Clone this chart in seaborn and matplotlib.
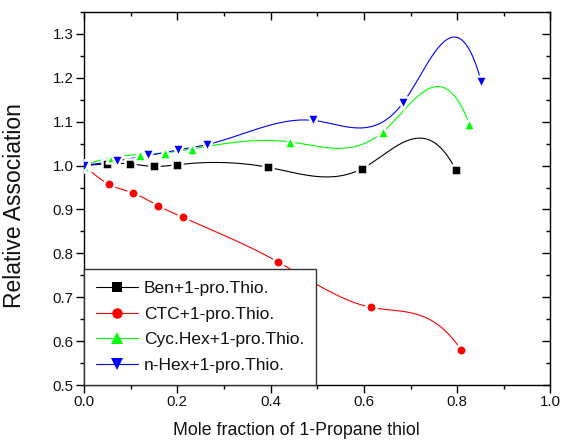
import numpy as np
import matplotlib
matplotlib.use("Agg")
import matplotlib.pyplot as plt
import seaborn as sns
from matplotlib.lines import Line2D
from matplotlib.ticker import MultipleLocator, FormatStrFormatter

# ---- data ----
ben_x = [0.0, 0.049, 0.099, 0.149, 0.199, 0.395, 0.596, 0.797]
ben_y = [1.000, 1.004, 1.004, 0.998, 1.002, 0.996, 0.993, 0.990]
ctc_x = [0.0, 0.054, 0.106, 0.158, 0.212, 0.415, 0.615, 0.809]
ctc_y = [1.000, 0.957, 0.937, 0.909, 0.882, 0.781, 0.677, 0.579]
cyc_x = [0.0, 0.059, 0.119, 0.174, 0.231, 0.442, 0.641, 0.826]
cyc_y = [1.000, 1.019, 1.025, 1.029, 1.038, 1.054, 1.077, 1.095]
hex_x = [0.0, 0.070, 0.138, 0.202, 0.264, 0.491, 0.684, 0.852]
hex_y = [1.000, 1.011, 1.023, 1.036, 1.048, 1.103, 1.143, 1.190]

labels = ["Ben+1-pro.Thio.", "CTC+1-pro.Thio.", "Cyc.Hex+1-pro.Thio.", "n-Hex+1-pro.Thio."]
x_ticks = [0.0, 0.2, 0.4, 0.6, 0.8, 1.0]
y_ticks = [0.5, 0.6, 0.7, 0.8, 0.9, 1.0, 1.1, 1.2, 1.3]

colors = ["#000000", "#ff0000", "#00ff00", "#0000ff"]
markers = ["s", "o", "^", "v"]
msizes = [7.0, 7.5, 8.6, 8.6]
# spline connection style (end slope of the connecting spline curve)
end_slopes = [-2.1, -1.6, -2.8, -3.9]


def spline_curve(x, y, end_slope, n=400):
    """Cubic spline through the points: natural start, clamped end."""
    x = np.asarray(x, float)
    y = np.asarray(y, float)
    N = len(x)
    h = np.diff(x)
    d = np.diff(y) / h
    A = np.zeros((N, N))
    b = np.zeros(N)
    A[0, 0], A[0, 1], b[0] = 2.0, 1.0, 3.0 * d[0]
    for i in range(1, N - 1):
        A[i, i - 1] = h[i]
        A[i, i] = 2.0 * (h[i - 1] + h[i])
        A[i, i + 1] = h[i - 1]
        b[i] = 3.0 * (h[i] * d[i - 1] + h[i - 1] * d[i])
    A[N - 1, N - 1], b[N - 1] = 1.0, end_slope
    m = np.linalg.solve(A, b)
    xs = np.linspace(x[0], x[-1], n)
    idx = np.clip(np.searchsorted(x, xs, side="right") - 1, 0, N - 2)
    t = (xs - x[idx]) / h[idx]
    h00 = 2 * t**3 - 3 * t**2 + 1
    h10 = t**3 - 2 * t**2 + t
    h01 = -2 * t**3 + 3 * t**2
    h11 = t**3 - t**2
    ys = h00 * y[idx] + h10 * h[idx] * m[idx] + h01 * y[idx + 1] + h11 * h[idx] * m[idx + 1]
    return xs, ys


sns.set_theme(style="ticks")
plt.rcParams["font.family"] = ["Liberation Sans", "DejaVu Sans"]

fig = plt.figure(figsize=(5.62, 4.47), dpi=100)
ax = fig.add_axes([0.1495, 0.1387, 0.830, 0.8345])

series = [(ben_x, ben_y), (ctc_x, ctc_y), (cyc_x, cyc_y), (hex_x, hex_y)]
for k, (sx, sy) in enumerate(series):
    xs, ys = spline_curve(sx, sy, end_slopes[k])
    sns.lineplot(x=xs, y=ys, ax=ax, color=colors[k], linewidth=0.8,
                 sort=False, estimator=None, zorder=2 + k)
for k, (sx, sy) in enumerate(series):
    sns.scatterplot(x=sx, y=sy, ax=ax, marker=markers[k], s=msizes[k] ** 2,
                    color=colors[k], edgecolor="white", linewidth=1.8,
                    zorder=10 + k)

ax.set_xlim(0.0, 1.0)
ax.set_ylim(0.5, 1.35)
ax.set_xticks(x_ticks)
ax.set_yticks(y_ticks)
ax.xaxis.set_minor_locator(MultipleLocator(0.1))
ax.yaxis.set_minor_locator(MultipleLocator(0.05))
ax.xaxis.set_major_formatter(FormatStrFormatter("%.1f"))
ax.yaxis.set_major_formatter(FormatStrFormatter("%.1f"))

for s in ax.spines.values():
    s.set_visible(True)
    s.set_color("black")
    s.set_linewidth(1.0)

ax.tick_params(axis="both", which="both", color="black", width=1.0,
               labelsize=10.8, labelcolor="#111111", pad=2)
ax.tick_params(axis="both", which="major", length=5.5)
ax.tick_params(axis="both", which="minor", length=3)
ax.tick_params(axis="x", which="both", direction="out", top=True)
ax.tick_params(axis="y", which="both", direction="out", right=True)
# top / right ticks point inward
for t in ax.xaxis.get_major_ticks() + ax.xaxis.get_minor_ticks():
    t.tick2line.set_marker(matplotlib.lines.TICKDOWN)
for t in ax.yaxis.get_major_ticks() + ax.yaxis.get_minor_ticks():
    t.tick2line.set_marker(matplotlib.lines.TICKLEFT)

ax.set_xlabel("Mole fraction of 1-Propane thiol", fontsize=12.8, color="#111111")
ax.set_ylabel("Relative Association", fontsize=16.5, color="#111111")
ax.xaxis.set_label_coords(0.455, -0.1)
ax.yaxis.set_label_coords(-0.124, 0.48)

handles = [Line2D([], [], color=colors[k], marker=markers[k], markersize=msizes[k],
                  linewidth=0.8, markeredgewidth=0) for k in range(4)]
leg = ax.legend(handles, labels, loc="lower left", bbox_to_anchor=(0.0, 0.0),
                borderaxespad=0.0, frameon=True, fancybox=False, fontsize=12.5,
                handlelength=2.4, handletextpad=0.35, labelspacing=0.6,
                borderpad=0.7, framealpha=1.0)
leg.get_frame().set_edgecolor("#333333")
leg.get_frame().set_linewidth(1.0)
for t in leg.get_texts():
    t.set_color("#111111")
leg.set_zorder(20)

fig.savefig("out.png", dpi=100)
